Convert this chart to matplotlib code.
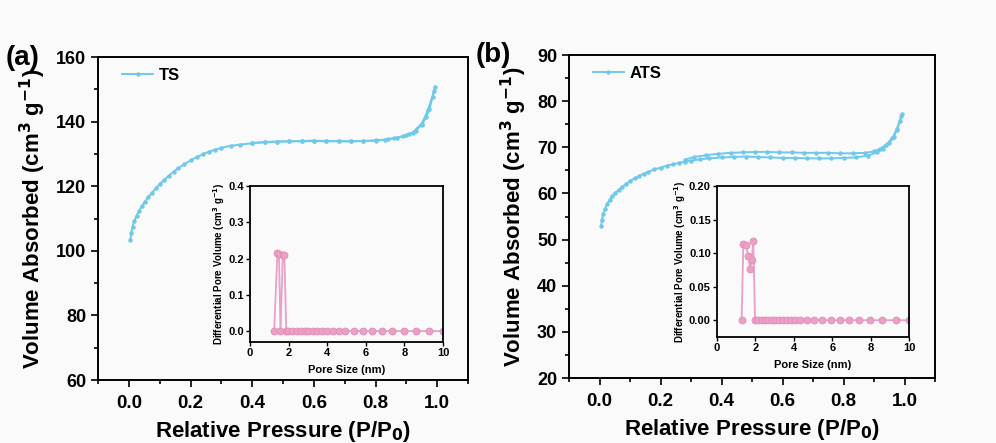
import matplotlib
matplotlib.use("Agg")
import matplotlib.pyplot as plt
from matplotlib.ticker import MultipleLocator, FormatStrFormatter

plt.rcParams['font.family'] = ['Liberation Sans', 'DejaVu Sans']
plt.rcParams['font.weight'] = 'bold'
plt.rcParams['mathtext.default'] = 'bf'

# ---- N2 isotherm, TS ----
ts_ads_p = [0.005, 0.008, 0.012, 0.018, 0.025, 0.033, 0.042, 0.052, 0.063, 0.075,
            0.088, 0.10, 0.115, 0.13, 0.145, 0.16, 0.18, 0.20, 0.22, 0.24,
            0.26, 0.28, 0.30, 0.33, 0.36, 0.40, 0.44, 0.48, 0.52, 0.56,
            0.60, 0.64, 0.68, 0.72, 0.76, 0.80, 0.83, 0.86, 0.89, 0.91,
            0.93, 0.95, 0.965, 0.975, 0.985, 0.993]
ts_ads_v = [103.2, 105.5, 107.5, 109.3, 110.9, 112.4, 113.8, 115.2, 116.6, 118.0,
            119.4, 120.7, 122.0, 123.3, 124.5, 125.6, 126.8, 128.0, 129.0, 129.9,
            130.7, 131.3, 131.9, 132.5, 132.9, 133.3, 133.6, 133.8, 133.9, 133.9,
            134.0, 133.9, 133.9, 133.9, 134.0, 134.1, 134.4, 134.9, 135.5, 136.2,
            137.2, 139.0, 141.5, 144.0, 147.5, 150.8]
ts_des_p = [0.99, 0.97, 0.95, 0.92, 0.90, 0.87, 0.84, 0.80, 0.76, 0.72,
            0.68, 0.64, 0.60, 0.56, 0.52, 0.48, 0.44, 0.40]
ts_des_v = [149.5, 143.5, 139.4, 136.6, 135.8, 135.0, 134.5, 134.2, 134.0, 133.9,
            134.0, 134.0, 134.1, 134.0, 133.9, 133.8, 133.7, 133.4]

# ---- N2 isotherm, ATS ----
ats_ads_p = [0.005, 0.008, 0.012, 0.018, 0.025, 0.033, 0.042, 0.052, 0.063, 0.075,
             0.088, 0.10, 0.115, 0.13, 0.145, 0.16, 0.18, 0.20, 0.22, 0.24,
             0.26, 0.28, 0.30, 0.33, 0.36, 0.40, 0.44, 0.48, 0.52, 0.56,
             0.60, 0.64, 0.68, 0.72, 0.76, 0.80, 0.84, 0.88, 0.91, 0.93,
             0.95, 0.965, 0.975, 0.985, 0.993]
ats_ads_v = [52.9, 54.3, 55.5, 56.7, 57.7, 58.6, 59.4, 60.1, 60.8, 61.5,
             62.1, 62.7, 63.3, 63.8, 64.3, 64.7, 65.2, 65.6, 66.0, 66.3,
             66.6, 66.9, 67.1, 67.4, 67.6, 67.8, 67.9, 68.0, 67.9, 67.8,
             67.7, 67.7, 67.6, 67.6, 67.6, 67.7, 67.8, 68.2, 68.9, 69.7,
             70.9, 72.3, 73.8, 75.7, 77.3]
ats_des_p = [0.99, 0.975, 0.96, 0.94, 0.92, 0.90, 0.87, 0.83, 0.79, 0.75,
             0.71, 0.67, 0.63, 0.59, 0.55, 0.51, 0.47, 0.43, 0.39, 0.35,
             0.31, 0.28]
ats_des_v = [76.8, 74.0, 72.0, 70.6, 69.7, 69.1, 68.8, 68.7, 68.7, 68.8,
             68.8, 68.8, 68.9, 68.9, 69.0, 69.0, 68.9, 68.8, 68.6, 68.3,
             67.9, 67.3]

# ---- pore size distributions ----
ts_pore_d = [1.25, 1.42, 1.50, 1.58, 1.70, 1.78, 1.88, 1.98, 2.2, 2.41,
             2.62, 2.83, 3.03, 3.24, 3.48, 3.72, 4.0, 4.28, 4.59, 4.93,
             5.38, 5.86, 6.31, 6.83, 7.38, 8.0, 8.62, 9.28, 10.0]
ts_pore_v = [0.0, 0.215, 0.213, 0.0, 0.211, 0.210, 0.0, 0.0, 0.0, 0.0,
             0.0, 0.0, 0.0, 0.0, 0.0, 0.0, 0.0, 0.0, 0.0, 0.0,
             0.0, 0.0, 0.0, 0.0, 0.0, 0.0, 0.0, 0.0, 0.0]
ats_pore_d = [1.28, 1.37, 1.51, 1.63, 1.73, 1.80, 1.89, 1.98, 2.15, 2.32,
              2.5, 2.67, 2.84, 3.03, 3.22, 3.43, 3.64, 3.85, 4.07, 4.32,
              4.66, 5.06, 5.46, 5.93, 6.4, 6.86, 7.4, 7.97, 8.61, 9.31, 10.0]
ats_pore_v = [0.0, 0.113, 0.112, 0.095, 0.076, 0.090, 0.118, 0.0, 0.0, 0.0,
              0.0, 0.0, 0.0, 0.0, 0.0, 0.0, 0.0, 0.0, 0.0, 0.0,
              0.0, 0.0, 0.0, 0.0, 0.0, 0.0, 0.0, 0.0, 0.0, 0.0, 0.0]

CYAN = '#6FC9EA'
PINK = '#EBA0C6'
PINK_EDGE = '#E48CB9'
BG = '#FAFAFA'

fig = plt.figure(figsize=(9.96, 4.43), dpi=100, facecolor=BG)


def style_main(ax, ylim, ystep):
    ax.set_facecolor(BG)
    ax.set_xlim(-0.1, 1.1)
    ax.set_ylim(*ylim)
    ax.xaxis.set_major_locator(MultipleLocator(0.2))
    ax.xaxis.set_minor_locator(MultipleLocator(0.1))
    ax.yaxis.set_major_locator(MultipleLocator(ystep))
    ax.yaxis.set_minor_locator(MultipleLocator(ystep / 2))
    ax.xaxis.set_major_formatter(FormatStrFormatter('%.1f'))
    ax.tick_params(which='both', direction='out', top=False, right=False,
                   width=1.2, labelsize=13)
    ax.tick_params(axis='x', labelsize=13.5, pad=6)
    ax.tick_params(which='major', length=5)
    ax.tick_params(which='minor', length=3)
    for s in ax.spines.values():
        s.set_linewidth(1.4)
    ax.set_xlabel('Relative Pressure (P/P$_0$)', fontsize=16, fontweight='bold',
                  labelpad=5)
    ax.set_ylabel('Volume Absorbed (cm$^3$ g$^{-1}$)', fontsize=16,
                  fontweight='bold', labelpad=6)


def style_inset(ax, ylim, ystep, fmt):
    ax.set_facecolor(BG)
    ax.set_xlim(0, 10)
    ax.set_ylim(*ylim)
    ax.xaxis.set_major_locator(MultipleLocator(2))
    ax.yaxis.set_major_locator(MultipleLocator(ystep))
    ax.yaxis.set_major_formatter(FormatStrFormatter(fmt))
    ax.tick_params(direction='out', top=False, right=False, width=1.0,
                   length=3, labelsize=8, pad=1.5)
    for s in ax.spines.values():
        s.set_linewidth(1.3)
    ax.set_xlabel('Pore Size (nm)', fontsize=8, fontweight='bold', labelpad=5)
    ax.set_ylabel('Differential Pore Volume (cm$^3$ g$^{-1}$)', fontsize=7,
                  fontweight='bold', labelpad=1)


def add_legend(ax):
    ax.legend(loc='upper left', bbox_to_anchor=(0.035, 1.0), frameon=False,
              handlelength=1.9, borderaxespad=0.25, handletextpad=0.3,
              prop={'weight': 'bold', 'size': 12})


# ---- panel (a) ----
ax1 = fig.add_axes([0.0984, 0.1422, 0.3715, 0.7291])
ax1.plot(ts_ads_p, ts_ads_v, '-o', color=CYAN, lw=1.4, ms=2.2, label='TS')
ax1.plot(ts_des_p, ts_des_v, '-o', color=CYAN, lw=1.4, ms=2.2)
style_main(ax1, (60, 160), 20)
add_legend(ax1)

ins1 = fig.add_axes([0.251, 0.228, 0.1938, 0.3521])
ins1.plot(ts_pore_d, ts_pore_v, '-o', color=PINK, lw=1.3, ms=5,
          mfc=PINK, mec=PINK_EDGE, mew=0.6)
style_inset(ins1, (-0.03, 0.4), 0.1, '%.1f')

# ---- panel (b) ----
ax2 = fig.add_axes([0.5713, 0.1467, 0.3675, 0.7291])
ax2.plot(ats_ads_p, ats_ads_v, '-o', color=CYAN, lw=1.4, ms=2.2, label='ATS')
ax2.plot(ats_des_p, ats_des_v, '-o', color=CYAN, lw=1.4, ms=2.2)
style_main(ax2, (20, 90), 10)
add_legend(ax2)

ins2 = fig.add_axes([0.7199, 0.2393, 0.1928, 0.3408])
ins2.plot(ats_pore_d, ats_pore_v, '-o', color=PINK, lw=1.3, ms=5,
          mfc=PINK, mec=PINK_EDGE, mew=0.6)
style_inset(ins2, (-0.025, 0.2), 0.05, '%.2f')

fig.text(0.006, 0.868, '(a)', fontsize=20, fontweight='bold', va='center')
fig.text(0.478, 0.875, '(b)', fontsize=20, fontweight='bold', va='center')

fig.savefig('out.png', dpi=100, facecolor=BG)
